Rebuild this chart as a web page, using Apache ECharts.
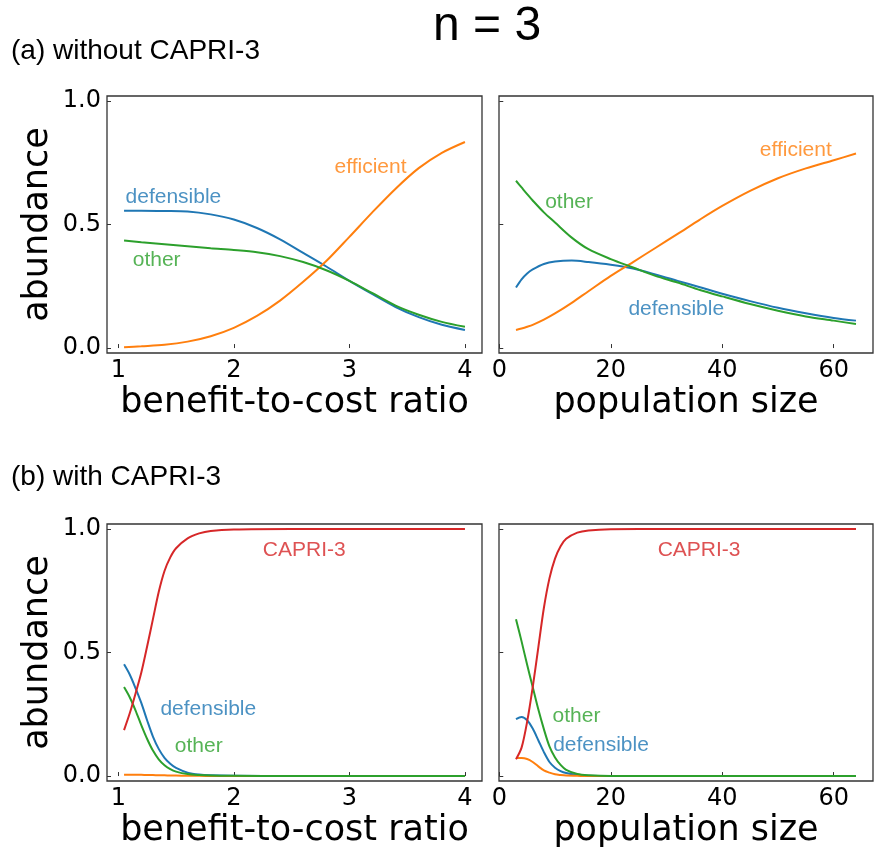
<!DOCTYPE html>
<html>
<head>
<meta charset="utf-8">
<script src="https://cdn.jsdelivr.net/npm/echarts@6/dist/echarts.min.js"></script>
<style>
html,body{margin:0;padding:0;background:#fff;}
#chart{width:875px;height:850px;}
</style>
</head>
<body>
<div id="chart"></div>
<script>
// ---------- data ----------
// (a) without CAPRI-3, vs benefit-to-cost ratio
const bcA = [1.05, 1.2, 1.4, 1.6, 1.8, 2.0, 2.2, 2.4, 2.6, 2.8, 3.0, 3.2, 3.4, 3.6, 3.8, 4.0];
const bcA_defensible = [0.556, 0.556, 0.555, 0.553, 0.541, 0.520, 0.486, 0.440, 0.385, 0.330, 0.272, 0.218, 0.166, 0.125, 0.094, 0.073];
const bcA_efficient  = [0.003, 0.007, 0.013, 0.026, 0.048, 0.082, 0.130, 0.192, 0.268, 0.352, 0.450, 0.550, 0.645, 0.728, 0.790, 0.834];
const bcA_other      = [0.435, 0.428, 0.420, 0.412, 0.404, 0.397, 0.388, 0.372, 0.348, 0.315, 0.272, 0.222, 0.172, 0.135, 0.106, 0.086];

// (a) without CAPRI-3, vs population size
const popA = [3, 4, 5, 6, 8, 10, 13, 16, 20, 24, 28, 32, 36, 40, 45, 50, 55, 60, 64];
const popA_defensible = [0.245, 0.278, 0.302, 0.318, 0.340, 0.350, 0.354, 0.348, 0.337, 0.322, 0.298, 0.272, 0.246, 0.220, 0.190, 0.163, 0.141, 0.122, 0.111];
const popA_efficient  = [0.073, 0.079, 0.086, 0.094, 0.115, 0.140, 0.183, 0.230, 0.292, 0.348, 0.405, 0.462, 0.520, 0.575, 0.636, 0.687, 0.727, 0.760, 0.787];
const popA_other      = [0.677, 0.650, 0.623, 0.597, 0.549, 0.508, 0.447, 0.400, 0.360, 0.326, 0.292, 0.265, 0.235, 0.209, 0.178, 0.151, 0.128, 0.111, 0.097];

// (b) with CAPRI-3, vs benefit-to-cost ratio
const bcB = [1.05, 1.1, 1.15, 1.2, 1.25, 1.3, 1.35, 1.4, 1.45, 1.5, 1.6, 1.7, 1.8, 2.0, 2.5, 3.0, 3.5, 4.0];
const bcB_defensible = [0.452, 0.410, 0.355, 0.295, 0.225, 0.160, 0.110, 0.074, 0.050, 0.033, 0.014, 0.006, 0.003, 0.001, 0, 0, 0, 0];
const bcB_efficient  = [0.005, 0.005, 0.005, 0.005, 0.004, 0.004, 0.003, 0.003, 0.002, 0.002, 0.001, 0.001, 0.0005, 0, 0, 0, 0, 0];
const bcB_other      = [0.360, 0.318, 0.265, 0.205, 0.150, 0.103, 0.068, 0.044, 0.028, 0.018, 0.008, 0.004, 0.002, 0.001, 0, 0, 0, 0];
const bcB_capri      = [0.186, 0.255, 0.335, 0.420, 0.525, 0.635, 0.745, 0.830, 0.885, 0.922, 0.962, 0.982, 0.992, 0.998, 1, 1, 1, 1];

// (b) with CAPRI-3, vs population size
const popB = [3, 4, 5, 6, 7, 8, 9, 10, 11, 12, 14, 16, 20, 30, 40, 50, 60, 64];
const popB_defensible = [0.230, 0.239, 0.226, 0.192, 0.145, 0.097, 0.057, 0.034, 0.020, 0.012, 0.004, 0.001, 0, 0, 0, 0, 0, 0];
const popB_efficient  = [0.073, 0.073, 0.069, 0.057, 0.039, 0.023, 0.014, 0.007, 0.004, 0.002, 0.001, 0, 0, 0, 0, 0, 0, 0];
const popB_other      = [0.635, 0.545, 0.450, 0.360, 0.270, 0.190, 0.120, 0.075, 0.045, 0.025, 0.008, 0.003, 0, 0, 0, 0, 0, 0];
const popB_capri      = [0.068, 0.115, 0.220, 0.360, 0.520, 0.680, 0.800, 0.880, 0.930, 0.960, 0.985, 0.994, 0.999, 1, 1, 1, 1, 1];

// tick values
const bcTicks = [1, 2, 3, 4];
const popTicks = [0, 20, 40, 60];
const yTicks = [0, 0.5, 1.0];

// in-plot text labels: [x, y, text, colorKey]
const labelsA_bc  = [[1.477, 0.612, 'defensible', 'defensible'], [1.332, 0.357, 'other', 'other'], [3.183, 0.733, 'efficient', 'efficient']];
const labelsA_pop = [[12.52, 0.592, 'other', 'other'], [53.2, 0.801, 'efficient', 'efficient'], [31.75, 0.156, 'defensible', 'defensible']];
const labelsB_bc  = [[2.609, 0.915, 'CAPRI-3', 'capri'], [1.779, 0.272, 'defensible', 'defensible'], [1.696, 0.121, 'other', 'other']];
const labelsB_pop = [[35.85, 0.912, 'CAPRI-3', 'capri'], [13.86, 0.242, 'other', 'other'], [18.25, 0.123, 'defensible', 'defensible']];

// ---------- styling ----------
const colors = { defensible: '#1f77b4', efficient: '#ff7f0e', other: '#2ca02c', capri: '#d62728' };
const sansFont = '"Liberation Sans", Arial, Helvetica, sans-serif';
const axisFont = '"DejaVu Sans", sans-serif';
const frame = '#333333';

const grids = [
  { left: 107, top: 96, width: 375, height: 257 },
  { left: 499, top: 96, width: 374, height: 257 },
  { left: 107, top: 524, width: 375, height: 257 },
  { left: 499, top: 524, width: 374, height: 257 }
];

function zip(xs, ys) { return xs.map((x, i) => [x, ys[i]]); }

function makeX(gi, kind) {
  const isBc = kind === 'bc';
  const ticks = isBc ? bcTicks : popTicks;
  return {
    type: 'value', gridIndex: gi,
    min: isBc ? 0.9025 : -0.05, max: isBc ? 4.1475 : 67.05,
    name: isBc ? 'benefit-to-cost ratio' : 'population size',
    nameLocation: 'middle', nameGap: 32,
    nameTextStyle: { fontFamily: axisFont, fontSize: 35, color: '#000' },
    axisLine: { show: false },
    axisTick: { show: true, inside: true, length: 4, customValues: ticks, lineStyle: { color: frame, width: 1 } },
    axisLabel: { show: true, customValues: ticks, margin: 6, fontFamily: axisFont, fontSize: 24, color: '#000',
      formatter: v => String(v) },
    splitLine: { show: false }
  };
}
function makeY(gi, showLabels) {
  return {
    type: 'value', gridIndex: gi, min: -0.02, max: 1.02,
    name: showLabels ? 'abundance' : '',
    nameLocation: 'middle', nameGap: 52, nameRotate: 90,
    nameTextStyle: { fontFamily: axisFont, fontSize: 35, color: '#000' },
    axisLine: { show: false },
    axisTick: { show: true, inside: true, length: 4, customValues: yTicks, lineStyle: { color: frame, width: 1 } },
    axisLabel: { show: showLabels, customValues: yTicks, margin: 6, fontFamily: axisFont, fontSize: 24, color: '#000',
      formatter: v => v.toFixed(1) },
    splitLine: { show: false }
  };
}

function line(gi, xs, ys, key) {
  return {
    type: 'line', xAxisIndex: gi, yAxisIndex: gi,
    data: zip(xs, ys), showSymbol: false, symbol: 'none',
    smooth: 0.3,
    lineStyle: { color: colors[key], width: 2 }, itemStyle: { color: colors[key] },
    silent: true, animation: false, z: 2
  };
}
function labels(gi, list) {
  return {
    type: 'scatter', xAxisIndex: gi, yAxisIndex: gi, silent: true, animation: false,
    symbol: 'circle', symbolSize: 1, itemStyle: { color: 'rgba(0,0,0,0)' }, z: 5,
    data: list.map(l => ({
      value: [l[0], l[1]], name: l[2],
      label: { show: true, position: 'inside', formatter: l[2], color: colors[l[3]],
        textBorderWidth: 0, fontFamily: sansFont, fontSize: 21 }
    }))
  };
}

const option = {
  backgroundColor: '#ffffff',
  animation: false,
  title: [
    { text: 'n = 3', left: 428, top: -2, textStyle: { fontFamily: sansFont, fontSize: 48, fontWeight: 'normal', color: '#000' } },
    { text: '(a) without CAPRI-3', left: 6, top: 32, textStyle: { fontFamily: sansFont, fontSize: 28, fontWeight: 'normal', color: '#000' } },
    { text: '(b) with CAPRI-3', left: 6, top: 458, textStyle: { fontFamily: sansFont, fontSize: 28, fontWeight: 'normal', color: '#000' } }
  ],
  grid: grids.map(g => Object.assign({ show: true, borderColor: frame, borderWidth: 1.3, backgroundColor: '#fff', containLabel: false }, g)),
  xAxis: [makeX(0, 'bc'), makeX(1, 'pop'), makeX(2, 'bc'), makeX(3, 'pop')],
  yAxis: [makeY(0, true), makeY(1, false), makeY(2, true), makeY(3, false)],
  series: [
    line(0, bcA, bcA_defensible, 'defensible'),
    line(0, bcA, bcA_efficient, 'efficient'),
    line(0, bcA, bcA_other, 'other'),
    labels(0, labelsA_bc),

    line(1, popA, popA_defensible, 'defensible'),
    line(1, popA, popA_efficient, 'efficient'),
    line(1, popA, popA_other, 'other'),
    labels(1, labelsA_pop),

    line(2, bcB, bcB_defensible, 'defensible'),
    line(2, bcB, bcB_efficient, 'efficient'),
    line(2, bcB, bcB_other, 'other'),
    line(2, bcB, bcB_capri, 'capri'),
    labels(2, labelsB_bc),

    line(3, popB, popB_defensible, 'defensible'),
    line(3, popB, popB_efficient, 'efficient'),
    line(3, popB, popB_other, 'other'),
    line(3, popB, popB_capri, 'capri'),
    labels(3, labelsB_pop)
  ]
};

const chart = echarts.init(document.getElementById('chart'), null, { renderer: 'canvas' });
chart.setOption(option);
</script>
</body>
</html>
